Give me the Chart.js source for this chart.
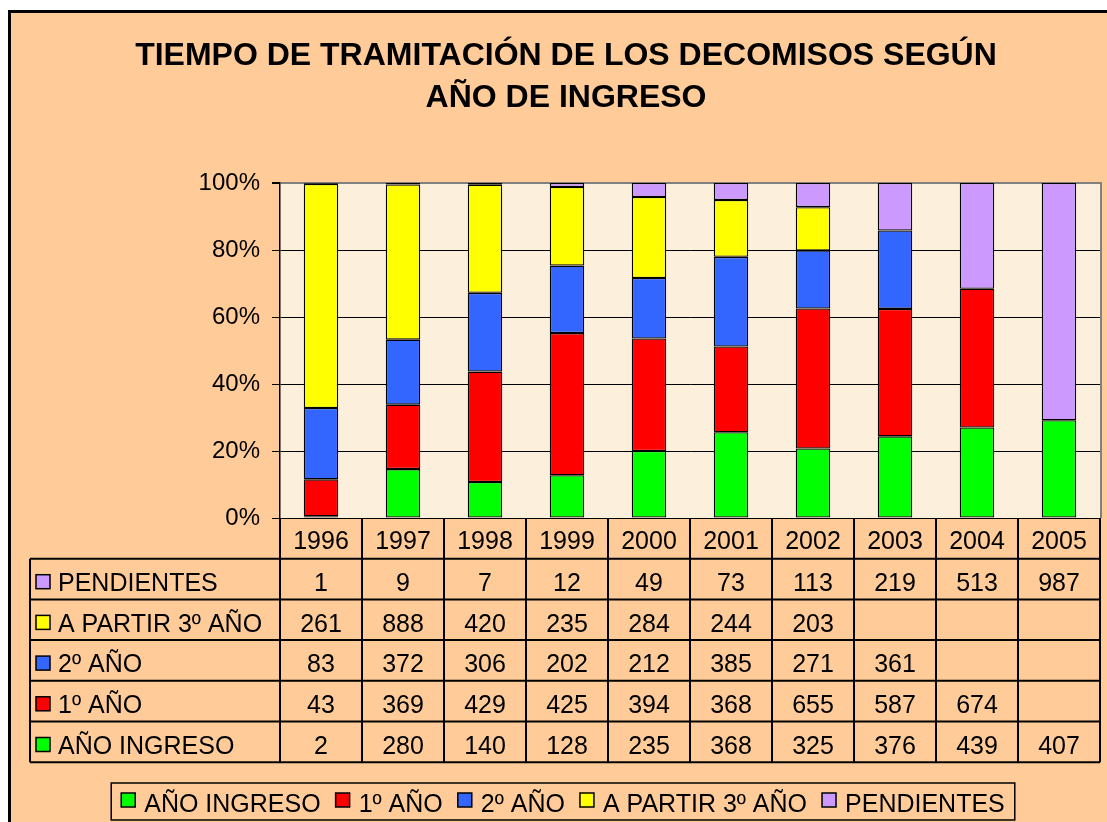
<!DOCTYPE html>
<html lang="es">
<head>
    <meta charset="UTF-8">
    <title>Tiempo de tramitación de los decomisos</title>
    <script src="https://cdn.jsdelivr.net/npm/chart.js"></script>
    <style>
        body { margin: 0; background: #fff; }
        #wrap { width: 1107px; height: 822px; }
    </style>
</head>
<body>
<div id="wrap"><canvas id="decomisosChart" width="1107" height="822"></canvas></div>

<script>
    const years = ['1996', '1997', '1998', '1999', '2000', '2001', '2002', '2003', '2004', '2005'];
    const anoIngreso = [2, 280, 140, 128, 235, 368, 325, 376, 439, 407];
    const primerAno = [43, 369, 429, 425, 394, 368, 655, 587, 674, null];
    const segundoAno = [83, 372, 306, 202, 212, 385, 271, 361, null, null];
    const tercerAno = [261, 888, 420, 235, 284, 244, 203, null, null, null];
    const pendientes = [1, 9, 7, 12, 49, 73, 113, 219, 513, 987];
    const yTicks = [0, 20, 40, 60, 80, 100];

    const seriesNames = ['AÑO INGRESO', '1º AÑO', '2º AÑO', 'A PARTIR 3º AÑO', 'PENDIENTES'];
    const seriesColors = ['#00FF00', '#FF0000', '#3366FF', '#FFFF00', '#CC99FF'];
    const seriesValues = [anoIngreso, primerAno, segundoAno, tercerAno, pendientes];

    const FONT = 'Arial, "Liberation Sans", sans-serif';

    // totales por año para el 100% apilado
    const totals = years.map((y, i) => seriesValues.reduce((s, arr) => s + (arr[i] || 0), 0));
    const toPct = arr => arr.map((v, i) => v == null ? null : v / totals[i] * 100);

    const frameAndTable = {
        id: 'frameAndTable',
        beforeDraw(chart) {
            const { ctx, chartArea: a } = chart;
            ctx.save();
            ctx.fillStyle = '#FFCC99';
            ctx.fillRect(8, 10, 1200, 1000);
            ctx.strokeStyle = '#000';
            ctx.lineWidth = 3;
            ctx.strokeRect(9.5, 11.5, 1200, 1000);
            ctx.fillStyle = '#FCF0DC';
            ctx.fillRect(a.left, a.top, a.right - a.left, a.bottom - a.top);
            ctx.restore();
        },
        afterDraw(chart) {
            const { ctx, chartArea: a, scales: { x } } = chart;
            const n = years.length;
            const colW = (a.right - a.left) / n;
            const rowH = 40.7;
            const top = a.bottom;
            const tableLeft = 30;
            ctx.save();

            // borde gris del área de trazado (derecha)
            ctx.strokeStyle = '#808080';
            ctx.lineWidth = 2;
            ctx.beginPath();
            ctx.moveTo(a.right + 1, a.top - 1);
            ctx.lineTo(a.right + 1, a.bottom);
            ctx.stroke();

            ctx.strokeStyle = '#000';
            ctx.lineWidth = 2;
            ctx.beginPath();
            for (let r = 1; r <= 6; r++) {
                const y = top + r * rowH;
                ctx.moveTo(tableLeft, y);
                ctx.lineTo(a.right, y);
            }
            for (let i = 0; i <= n; i++) {
                const xx = a.left + i * colW;
                ctx.moveTo(xx, top);
                ctx.lineTo(xx, top + 6 * rowH);
            }
            ctx.moveTo(tableLeft, top + rowH);
            ctx.lineTo(tableLeft, top + 6 * rowH);
            ctx.stroke();

            ctx.fillStyle = '#000';
            ctx.font = '25px ' + FONT;
            ctx.textBaseline = 'middle';
            ctx.textAlign = 'center';
            years.forEach((yr, i) => {
                ctx.fillText(yr, x.getPixelForValue(i), top + rowH / 2 + 4);
            });

            // filas: de arriba abajo, orden inverso al apilado
            for (let r = 0; r < 5; r++) {
                const s = 4 - r;
                const rowTop = top + (r + 1) * rowH;
                const cy = rowTop + rowH / 2 + 5;
                ctx.fillStyle = seriesColors[s];
                ctx.fillRect(36, rowTop + 16, 14, 14);
                ctx.strokeStyle = '#000';
                ctx.lineWidth = 1.5;
                ctx.strokeRect(36, rowTop + 16, 14, 14);
                ctx.fillStyle = '#000';
                ctx.textAlign = 'left';
                ctx.fillText(seriesNames[s], 58, cy);
                ctx.textAlign = 'center';
                seriesValues[s].forEach((v, i) => {
                    if (v != null) ctx.fillText(String(v), x.getPixelForValue(i), cy);
                });
            }

            // leyenda
            const swatch = 14, gapText = 9, gapItem = 15, padX = 10;
            const widths = seriesNames.map(t => ctx.measureText(t).width);
            const total = widths.reduce((s, w) => s + swatch + gapText + w, 0) + gapItem * (seriesNames.length - 1) + padX * 2;
            const boxLeft = 563 - total / 2;
            const boxTop = 783, boxBottom = 820;
            ctx.strokeStyle = '#000';
            ctx.lineWidth = 1.5;
            ctx.strokeRect(boxLeft, boxTop, total, boxBottom - boxTop);
            let lx = boxLeft + padX;
            seriesNames.forEach((t, i) => {
                ctx.fillStyle = seriesColors[i];
                ctx.fillRect(lx, boxTop + 10, 14, 14);
                ctx.strokeRect(lx, boxTop + 10, 14, 14);
                ctx.fillStyle = '#000';
                ctx.textAlign = 'left';
                ctx.fillText(t, lx + swatch + gapText, boxTop + 22);
                lx += swatch + gapText + widths[i] + gapItem;
            });
            ctx.restore();
        }
    };

    const ctx = document.getElementById('decomisosChart').getContext('2d');
    new Chart(ctx, {
        type: 'bar',
        data: {
            labels: years,
            datasets: seriesNames.map((name, i) => ({
                label: name,
                data: toPct(seriesValues[i]),
                backgroundColor: seriesColors[i],
                borderColor: '#000',
                borderWidth: 1.3,
                borderSkipped: false,
                barPercentage: 0.42,
                categoryPercentage: 1
            }))
        },
        options: {
            responsive: false,
            animation: false,
            layout: { padding: { top: 0, left: 32, right: 7, bottom: 304 } },
            plugins: {
                legend: { display: false },
                tooltip: { enabled: false },
                title: {
                    display: true,
                    text: ['TIEMPO DE TRAMITACIÓN DE LOS DECOMISOS SEGÚN', 'AÑO DE INGRESO'],
                    color: '#000',
                    font: { family: FONT, size: 32, weight: 'bold', lineHeight: '42px' },
                    padding: { top: 35, bottom: 64 }
                }
            },
            scales: {
                x: { stacked: true, display: false },
                y: {
                    stacked: true,
                    min: 0,
                    max: 100,
                    afterFit: scale => { scale.width = 248; },
                    afterBuildTicks: scale => { scale.ticks = yTicks.map(v => ({ value: v })); },
                    ticks: {
                        color: '#000',
                        font: { family: FONT, size: 24 },
                        padding: 12,
                        callback: v => v + '%'
                    },
                    grid: {
                        color: c => c.tick && c.tick.value === 100 ? '#808080' : '#000',
                        lineWidth: c => c.tick && c.tick.value === 100 ? 2 : 1,
                        tickColor: '#000',
                        tickLength: 8
                    },
                    border: { display: true, color: '#000', width: 1.5 }
                }
            }
        },
        plugins: [frameAndTable]
    });
</script>
</body>
</html>
